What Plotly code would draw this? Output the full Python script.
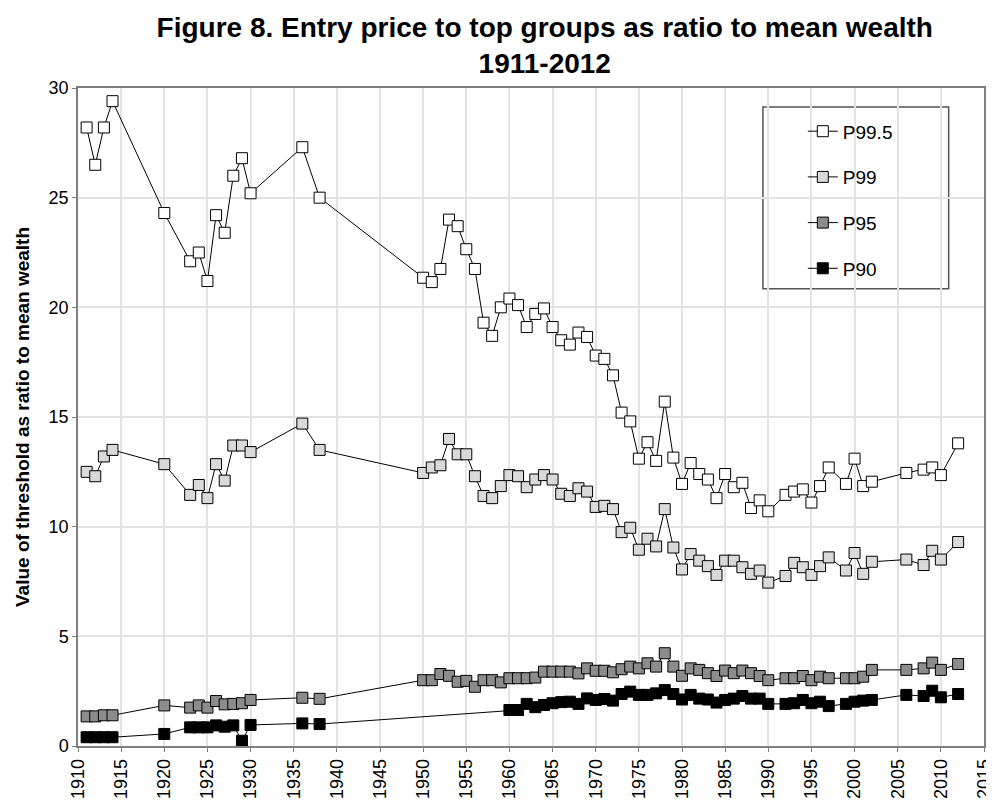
import plotly.graph_objects as go

years_early = [1911, 1912, 1913, 1914, 1920, 1923, 1924, 1925, 1926, 1927, 1928, 1929, 1930, 1936, 1938]
years_1950 = list(range(1950, 1991)) + [1992, 1993, 1994, 1995, 1996, 1997, 1999, 2000, 2001, 2002, 2006, 2008, 2009, 2010, 2012]
years_1960 = list(range(1960, 1991)) + [1992, 1993, 1994, 1995, 1996, 1997, 1999, 2000, 2001, 2002, 2006, 2008, 2009, 2010, 2012]

# P99.5
p995_early = [28.2, 26.5, 28.2, 29.4, 24.3, 22.1, 22.5, 21.2, 24.2, 23.4, 26.0, 26.8, 25.2, 27.3, 25.0]
p995_late = [21.35, 21.15, 21.75, 24.0, 23.7, 22.65, 21.75, 19.3, 18.7, 20.0,
             20.4, 20.1, 19.1, 19.7, 19.95, 19.1, 18.5, 18.3, 18.85, 18.65,
             17.8, 17.65, 16.9, 15.2, 14.8, 13.1, 13.85, 13.0, 15.7, 13.15,
             11.95, 12.9, 12.4, 12.15, 11.3, 12.4, 11.8, 12.0, 10.85, 11.2,
             10.7, 11.45, 11.6, 11.7, 11.1, 11.85, 12.7, 11.95, 13.1, 11.85,
             12.05, 12.45, 12.6, 12.7, 12.35, 13.8]

# P99
p99_early = [12.5, 12.3, 13.2, 13.5, 12.85, 11.45, 11.9, 11.3, 12.85, 12.1, 13.7, 13.7, 13.4, 14.7, 13.5]
p99_late = [12.45, 12.7, 12.8, 14.0, 13.3, 13.3, 12.3, 11.4, 11.3, 11.85,
            12.35, 12.3, 11.8, 12.15, 12.35, 12.15, 11.5, 11.4, 11.75, 11.6,
            10.9, 10.95, 10.8, 9.75, 9.95, 8.95, 9.45, 9.1, 10.8, 9.05,
            8.05, 8.75, 8.45, 8.2, 7.8, 8.45, 8.45, 8.15, 7.85, 8.0,
            7.45, 7.75, 8.35, 8.15, 7.8, 8.2, 8.6, 8.0, 8.8, 7.85,
            8.4, 8.5, 8.25, 8.9, 8.5, 9.3]

# P95
p95_early = [1.35, 1.35, 1.4, 1.4, 1.85, 1.75, 1.85, 1.75, 2.05, 1.9, 1.92, 1.95, 2.1, 2.2, 2.15]
p95_late = [3.0, 3.0, 3.28, 3.2, 2.93, 2.97, 2.7, 3.0, 3.0, 2.9,
            3.09, 3.09, 3.09, 3.12, 3.39, 3.39, 3.39, 3.39, 3.31, 3.54,
            3.43, 3.43, 3.36, 3.5, 3.62, 3.54, 3.77, 3.62, 4.23, 3.62,
            3.2, 3.54, 3.47, 3.32, 3.19, 3.44, 3.32, 3.44, 3.32, 3.19,
            3.0, 3.09, 3.09, 3.19, 3.0, 3.16, 3.09, 3.09, 3.09, 3.16,
            3.47, 3.47, 3.54, 3.8, 3.47, 3.74]

# P90 (no observations 1950-1959)
p90_early = [0.4, 0.4, 0.4, 0.4, 0.55, 0.85, 0.85, 0.85, 0.94, 0.88, 0.94, 0.24, 0.96, 1.03, 1.0]
p90_late = [1.64, 1.64, 1.92, 1.77, 1.87, 1.95, 2.0, 2.02, 1.92, 2.17,
            2.1, 2.14, 2.07, 2.37, 2.48, 2.33, 2.33, 2.4, 2.55, 2.37,
            2.12, 2.33, 2.16, 2.12, 1.98, 2.1, 2.16, 2.28, 2.16, 2.16,
            1.92, 1.92, 1.95, 2.1, 1.95, 2.02, 1.82, 1.92, 2.02, 2.07,
            2.1, 2.33, 2.28, 2.52, 2.22, 2.37]

series = [
    ("P99.5", years_early + years_1950, p995_early + p995_late, "white"),
    ("P99", years_early + years_1950, p99_early + p99_late, "#d9d9d9"),
    ("P95", years_early + years_1950, p95_early + p95_late, "#8c8c8c"),
    ("P90", years_early + years_1960, p90_early + p90_late, "black"),
]

fig = go.Figure()
for name, xs, ys, fill in series:
    fig.add_trace(go.Scatter(
        x=xs, y=ys, name=name, legendgroup=name,
        mode="lines+markers",
        line=dict(color="black", width=1),
        marker=dict(symbol="square", size=11, color=fill,
                    line=dict(color="black", width=1)),
    ))

font = "Liberation Sans, Arial, sans-serif"
fig.update_layout(
    width=994, height=803,
    margin=dict(l=70, r=18, t=80, b=65),
    paper_bgcolor="white", plot_bgcolor="white",
    font=dict(family=font, color="black", size=15),
    title=dict(
        text="<b>Figure 8. Entry price to top groups as ratio to mean wealth<br>1911-2012</b>",
        x=0.540, xanchor="center", yref="container", y=0.964, yanchor="middle",
        font=dict(size=28, family=font),
    ),
    legend=dict(
        x=0.80, xanchor="left", y=0.963, yanchor="top",
        bgcolor="rgba(0,0,0,0)", borderwidth=0,
        font=dict(size=19), tracegroupgap=18,
    ),
    shapes=[dict(type="rect", xref="paper", yref="paper",
                 x0=0.756, x1=0.961, y0=0.695, y1=0.971,
                 line=dict(color="#555555", width=1.5), fillcolor="white",
                 layer="below")],
)
fig.update_xaxes(
    range=[1910, 2015], dtick=5, tickangle=-90, automargin=False,
    showgrid=True, gridcolor="#e3e3e3", gridwidth=1.5,
    showline=True, linecolor="#7f7f7f", linewidth=1.5, mirror=True,
    ticks="outside", ticklen=4, tickcolor="#7f7f7f",
    tickfont=dict(size=18), zeroline=False,
)
fig.update_yaxes(
    range=[0, 30], dtick=5, automargin=False,
    showgrid=True, gridcolor="#e3e3e3", gridwidth=1.5,
    showline=True, linecolor="#7f7f7f", linewidth=1.5, mirror=True,
    ticks="outside", ticklen=4, tickcolor="#7f7f7f",
    tickfont=dict(size=18), zeroline=False,
    title=dict(text="<b>Value of threshold as ratio to mean wealth</b>",
               font=dict(size=19), standoff=14),
)

fig.write_html("out.html")
